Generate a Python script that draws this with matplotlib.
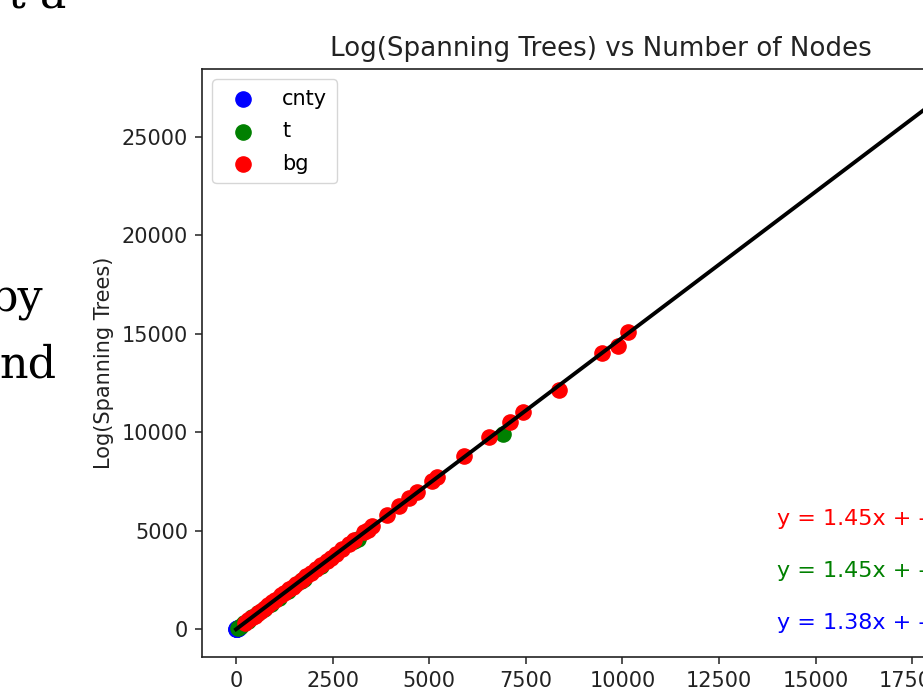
import matplotlib.pyplot as plt

# counties, tracts, block groups: number of nodes vs log(number of spanning trees)
cnty_x = [3, 8, 14, 20, 29, 37, 46, 58, 67]
cnty_y = [2, 9, 17, 25, 37, 48, 61, 77, 90]

t_x = [60, 130, 210, 300, 420, 560, 720, 900, 1100, 1350, 1686, 1750, 2200, 3060, 3150, 6898]
t_y = [80, 180, 300, 430, 600, 810, 1040, 1300, 1590, 1950, 2450, 2540, 3190, 4460, 4590, 9909]

bg_x = [220, 310, 400, 480, 570, 650, 740, 830, 930, 1020, 1170, 1250, 1380, 1470, 1560,
        1700, 1820, 1950, 2080, 2200, 2360, 2460, 2590, 2750, 2930, 3050, 3320, 3420, 3530,
        3920, 4230, 4490, 4690, 5060, 5210, 5910, 6560, 7080, 7420, 8350, 9470, 9880, 10140]
bg_y = [310, 450, 580, 700, 830, 950, 1080, 1220, 1370, 1500, 1720, 1840, 2030, 2160, 2300,
        2500, 2690, 2880, 3080, 3250, 3490, 3640, 3830, 4070, 4330, 4510, 4920, 5060, 5230,
        5820, 6270, 6660, 6960, 7510, 7730, 8790, 9760, 10540, 11030, 12140, 14020, 14380, 15090]

# overall fit line
fit_x = [0, 18400]
fit_y = [0, 27250]

# per-level fit equations (slope, intercept)
eq_slope = [1.45, 1.45, 1.38]
eq_icpt = [-26.41, -19.87, -3.52]
eq_ypos = [5300, 2650, 0]
eq_cols = ["red", "green", "blue"]

fig = plt.figure(figsize=(9.23, 6.92), dpi=100)
ax = fig.add_axes([202 / 923, 35 / 692, 798 / 923, 588 / 692])

ax.scatter(cnty_x, cnty_y, s=120, color="blue", label="cnty", zorder=2)
ax.scatter(t_x, t_y, s=120, color="green", label="t", zorder=2)
ax.scatter(bg_x, bg_y, s=120, color="red", label="bg", zorder=2)
ax.plot(fit_x, fit_y, color="black", lw=2.8, zorder=3)

for m, b, yy, c in zip(eq_slope, eq_icpt, eq_ypos, eq_cols):
    ax.text(14000, yy, "y = {:.2f}x + {:.2f}".format(m, b), color=c, fontsize=16)

ax.set_xlim(-880, 19772)
ax.set_ylim(-1406, 28442)
ax.set_xticks(range(0, 20000, 2500))
ax.set_yticks(range(0, 30000, 5000))
ax.tick_params(labelsize=15, length=5, width=1.1, pad=5, colors="#222222", labelcolor="#222222")
for sp in ax.spines.values():
    sp.set_linewidth(1.2)
    sp.set_color("#222222")

ax.set_title("Log(Spanning Trees) vs Number of Nodes", fontsize=18.8, pad=9, color="#222222")
ax.set_ylabel("Log(Spanning Trees)", fontsize=15, labelpad=6, color="#222222")
ax.legend(loc="upper left", fontsize=15, borderpad=0.45, handletextpad=0.9, labelspacing=0.6)

# slide text around the chart
fig.text(66 / 923, 1 - 8 / 692, "t a", fontsize=32, family="DejaVu Serif", ha="right")
fig.text(43 / 923, 1 - 310 / 692, "by", fontsize=32, family="DejaVu Serif", ha="right")
fig.text(57 / 923, 1 - 378 / 692, "nd", fontsize=32, family="DejaVu Serif", ha="right")

fig.savefig("out.png", dpi=100)
